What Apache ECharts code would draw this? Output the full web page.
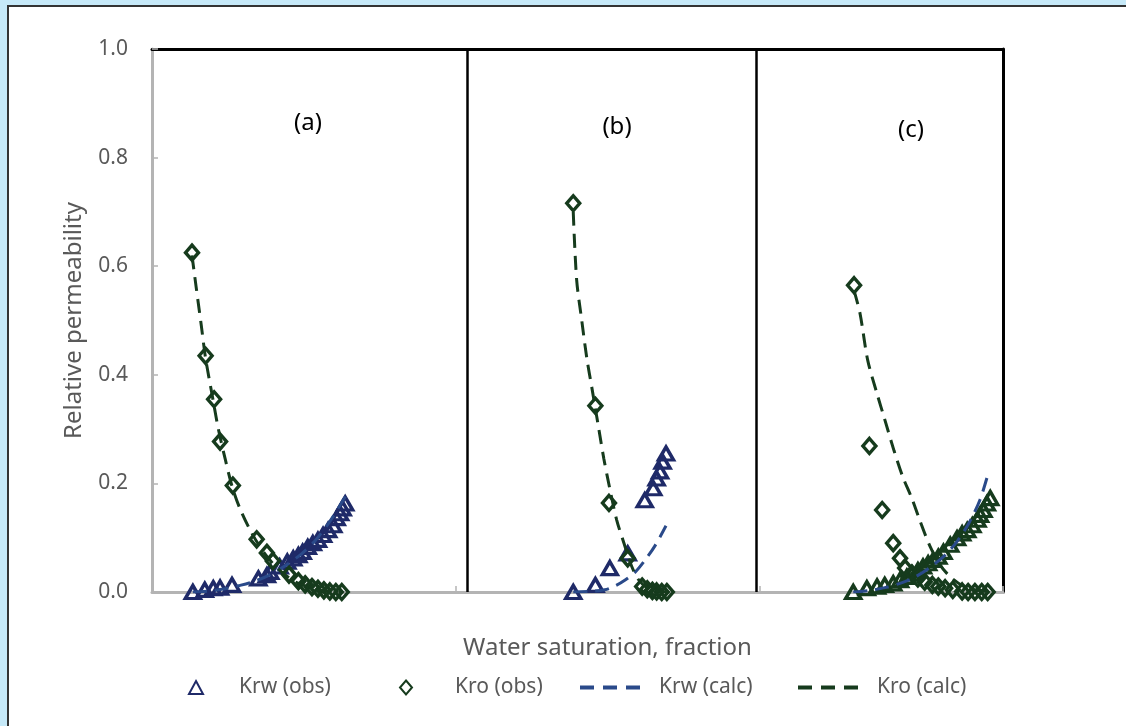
<!DOCTYPE html>
<html>
<head>
<meta charset="utf-8">
<script src="https://cdn.jsdelivr.net/npm/echarts@6/dist/echarts.min.js"></script>
<style>
  html, body { margin: 0; padding: 0; width: 1126px; height: 726px; overflow: hidden; background: #c6e9f8; }
  #frame { position: absolute; left: 7px; top: 5px; right: 0; bottom: 0; background: #fff; border-left: 2px solid #333; border-top: 2px solid #333; }
  #chart { position: absolute; left: 0; top: 0; width: 1126px; height: 726px; }
</style>
</head>
<body>
<div id="frame"></div>
<div id="chart"></div>
<script>
// x is the position along the shared (hidden) water saturation axis, 0..1
// panel (a)
const krwObsA_x = [0.048, 0.062, 0.072, 0.080, 0.094, 0.125, 0.135, 0.139, 0.150, 0.159, 0.166, 0.172, 0.177, 0.183, 0.189, 0.195, 0.201, 0.207, 0.213, 0.217, 0.221, 0.224, 0.227];
const krwObsA_y = [0, 0.004, 0.007, 0.008, 0.013, 0.025, 0.031, 0.037, 0.047, 0.056, 0.062, 0.068, 0.074, 0.083, 0.090, 0.096, 0.105, 0.114, 0.123, 0.136, 0.145, 0.154, 0.163];
const kroObsA_x = [0.047, 0.063, 0.073, 0.080, 0.095, 0.123, 0.135, 0.142, 0.161, 0.172, 0.180, 0.188, 0.195, 0.202, 0.209, 0.216, 0.223];
const kroObsA_y = [0.625, 0.435, 0.355, 0.277, 0.196, 0.097, 0.072, 0.057, 0.032, 0.020, 0.014, 0.009, 0.006, 0.003, 0.001, 0, 0];
const krwCalcA_x = [0.048, 0.068, 0.086, 0.103, 0.121, 0.139, 0.156, 0.174, 0.192, 0.209, 0.228];
const krwCalcA_y = [0, 0.002, 0.006, 0.012, 0.020, 0.032, 0.048, 0.068, 0.095, 0.130, 0.178];
const kroCalcA_x = [0.047, 0.052, 0.058, 0.063, 0.071, 0.078, 0.086, 0.094, 0.103, 0.115, 0.127, 0.139, 0.153, 0.168, 0.186, 0.203, 0.223];
const kroCalcA_y = [0.62, 0.56, 0.49, 0.43, 0.36, 0.30, 0.245, 0.195, 0.155, 0.115, 0.083, 0.058, 0.036, 0.019, 0.008, 0.002, 0];

// panel (b)
const krwObsB_x = [0.495, 0.521, 0.538, 0.559, 0.579, 0.589, 0.593, 0.597, 0.600, 0.604];
const krwObsB_y = [0, 0.013, 0.044, 0.071, 0.169, 0.191, 0.209, 0.222, 0.240, 0.255];
const kroObsB_x = [0.495, 0.521, 0.537, 0.559, 0.576, 0.582, 0.588, 0.593, 0.599, 0.605];
const kroObsB_y = [0.716, 0.343, 0.164, 0.062, 0.010, 0.005, 0.002, 0.001, 0, 0];
const krwCalcB_x = [0.495, 0.515, 0.532, 0.544, 0.556, 0.568, 0.579, 0.591, 0.604];
const krwCalcB_y = [0, 0.001, 0.004, 0.011, 0.022, 0.037, 0.058, 0.085, 0.122];
const kroCalcB_x = [0.495, 0.499, 0.505, 0.511, 0.517, 0.524, 0.531, 0.538, 0.546, 0.555, 0.564, 0.573, 0.585, 0.605];
const kroCalcB_y = [0.70, 0.575, 0.50, 0.43, 0.375, 0.31, 0.245, 0.19, 0.133, 0.088, 0.046, 0.02, 0.005, 0];

// panel (c)
const krwObsC_x = [0.824, 0.840, 0.852, 0.861, 0.871, 0.879, 0.887, 0.893, 0.900, 0.906, 0.912, 0.918, 0.924, 0.930, 0.938, 0.946, 0.952, 0.958, 0.964, 0.970, 0.973, 0.977, 0.981, 0.985];
const krwObsC_y = [0, 0.007, 0.010, 0.013, 0.016, 0.022, 0.028, 0.034, 0.040, 0.047, 0.053, 0.059, 0.065, 0.074, 0.087, 0.099, 0.108, 0.114, 0.123, 0.133, 0.142, 0.151, 0.163, 0.173];
const kroObsC_x = [0.825, 0.843, 0.858, 0.871, 0.879, 0.885, 0.893, 0.900, 0.908, 0.917, 0.924, 0.932, 0.941, 0.952, 0.959, 0.967, 0.975, 0.982];
const kroObsC_y = [0.565, 0.269, 0.151, 0.090, 0.062, 0.044, 0.034, 0.025, 0.019, 0.013, 0.010, 0.007, 0.004, 0.001, 0, 0, 0, 0];
const krwCalcC_x = [0.824, 0.844, 0.861, 0.879, 0.897, 0.914, 0.932, 0.947, 0.961, 0.973, 0.982];
const krwCalcC_y = [0, 0.003, 0.008, 0.016, 0.028, 0.045, 0.068, 0.095, 0.13, 0.17, 0.215];
const kroCalcC_x = [0.825, 0.832, 0.841, 0.852, 0.861, 0.872, 0.882, 0.893, 0.902, 0.914, 0.926, 0.938, 0.952, 0.967, 0.985];
const kroCalcC_y = [0.555, 0.513, 0.427, 0.365, 0.318, 0.26, 0.213, 0.172, 0.133, 0.085, 0.05, 0.028, 0.012, 0.004, 0];

const panelBreaks = [0.3655, 0.7098];
const panelLabels = ['(a)', '(b)', '(c)'];

const NAVY = '#1f2a68';
const GREEN = '#163b1d';
const CALC_BLUE = '#2a4a8a';
const GREY = '#595959';
const AXIS_GREY = '#b4b4b4';
const FONT = '"Noto Sans", "Open Sans", sans-serif';

const pts = (xs, ys) => xs.map((x, i) => [x, ys[i]]);

const obs = (name, xs, ys, symbol, size, color) => ({
  name: name,
  type: 'scatter',
  symbol: symbol,
  symbolSize: size,
  data: pts(xs, ys),
  itemStyle: { color: 'rgba(255,255,255,0)', borderColor: color, borderWidth: 3.4, opacity: 1 },
  z: 3
});

const calc = (name, xs, ys, color) => ({
  name: name,
  type: 'line',
  symbol: 'none',
  smooth: 0.3,
  data: pts(xs, ys),
  lineStyle: { color: color, width: 3, type: [14, 8] },
  itemStyle: { color: color },
  z: 4
});

const chart = echarts.init(document.getElementById('chart'));

const series = [
  obs('Krw (obs)', krwObsA_x, krwObsA_y, 'triangle', [15, 13], NAVY),
  obs('Krw (obs)', krwObsB_x, krwObsB_y, 'triangle', [15, 13], NAVY),
  // panel (c) triangles are drawn in dark green in the original
  obs('Krw (obs) c', krwObsC_x, krwObsC_y, 'triangle', [15, 13], GREEN),
  obs('Kro (obs)', kroObsA_x, kroObsA_y, 'diamond', [13, 15], GREEN),
  obs('Kro (obs)', kroObsB_x, kroObsB_y, 'diamond', [13, 15], GREEN),
  obs('Kro (obs)', kroObsC_x, kroObsC_y, 'diamond', [13, 15], GREEN),
  calc('Krw (calc)', krwCalcA_x, krwCalcA_y, CALC_BLUE),
  calc('Krw (calc)', krwCalcB_x, krwCalcB_y, CALC_BLUE),
  calc('Krw (calc)', krwCalcC_x, krwCalcC_y, CALC_BLUE),
  calc('Kro (calc)', kroCalcA_x, kroCalcA_y, GREEN),
  calc('Kro (calc)', kroCalcB_x, kroCalcB_y, GREEN),
  calc('Kro (calc)', kroCalcC_x, kroCalcC_y, GREEN)
];

// vertical panel dividers
series[0].markLine = {
  silent: true,
  symbol: 'none',
  label: { show: false },
  lineStyle: { color: '#000', width: 2.5, type: 'solid', opacity: 1 },
  data: panelBreaks.map(x => ({ xAxis: x }))
};

const legendText = (pad) => ({ color: GREY, fontSize: 21, fontFamily: FONT, padding: [0, 0, 0, pad] });
const dashIcon = 'path://M0,0h14v4h-14z M23,0h14v4h-14z M46,0h14v4h-14z';

const option = {
  animation: false,
  backgroundColor: 'transparent',
  grid: { left: 152, top: 49, right: 123, bottom: 134 },
  xAxis: [
    {
      type: 'value', min: 0, max: 1, interval: 1 / 2.8,
      name: 'Water saturation, fraction',
      nameLocation: 'middle', nameGap: 44,
      nameTextStyle: { color: GREY, fontSize: 24, fontFamily: FONT, padding: [0, 0, 0, 60] },
      axisLine: { onZero: false, lineStyle: { color: AXIS_GREY, width: 3 } },
      axisTick: { inside: true, length: 6, lineStyle: { color: AXIS_GREY, width: 1.5 } },
      axisLabel: { show: false },
      splitLine: { show: false }
    },
    {
      type: 'value', min: 0, max: 1, position: 'top',
      axisLine: { show: true, onZero: false, lineStyle: { color: '#000', width: 3 } },
      axisTick: { show: false }, axisLabel: { show: false }, splitLine: { show: false }
    }
  ],
  yAxis: [
    {
      type: 'value', min: 0, max: 1, interval: 0.2,
      name: 'Relative permeability',
      nameLocation: 'middle', nameGap: 66,
      nameTextStyle: { color: GREY, fontSize: 24, fontFamily: FONT },
      axisLine: { show: true, onZero: false, lineStyle: { color: AXIS_GREY, width: 3 } },
      axisTick: { show: true, inside: true, length: 6, lineStyle: { color: AXIS_GREY, width: 1.5 } },
      axisLabel: { color: GREY, fontSize: 21, fontFamily: FONT, margin: 24, formatter: v => v.toFixed(1) },
      splitLine: { show: false }
    },
    {
      type: 'value', min: 0, max: 1, position: 'right',
      axisLine: { show: true, onZero: false, lineStyle: { color: '#000', width: 3 } },
      axisTick: { show: false }, axisLabel: { show: false }, splitLine: { show: false }
    }
  ],
  legend: [
    { data: ['Krw (obs)'], left: 188, top: 677, padding: 0, itemWidth: 14, itemHeight: 13, textStyle: legendText(31) },
    { data: ['Kro (obs)'], left: 399, top: 677, padding: 0, itemWidth: 12, itemHeight: 14, textStyle: legendText(38) },
    { data: [{ name: 'Krw (calc)', icon: dashIcon }], left: 580, top: 677, padding: 0, itemWidth: 60, itemHeight: 4, textStyle: legendText(14) },
    { data: [{ name: 'Kro (calc)', icon: dashIcon }], left: 798, top: 677, padding: 0, itemWidth: 60, itemHeight: 4, textStyle: legendText(14) }
  ],
  graphic: panelLabels.map((t, i) => ({
    type: 'text',
    x: [308, 617, 911][i],
    y: [123, 127, 130][i],
    style: { text: t, fill: '#000', font: '24px ' + FONT, align: 'center', verticalAlign: 'middle' }
  })),
  series: series
};

chart.setOption(option);
</script>
</body>
</html>
